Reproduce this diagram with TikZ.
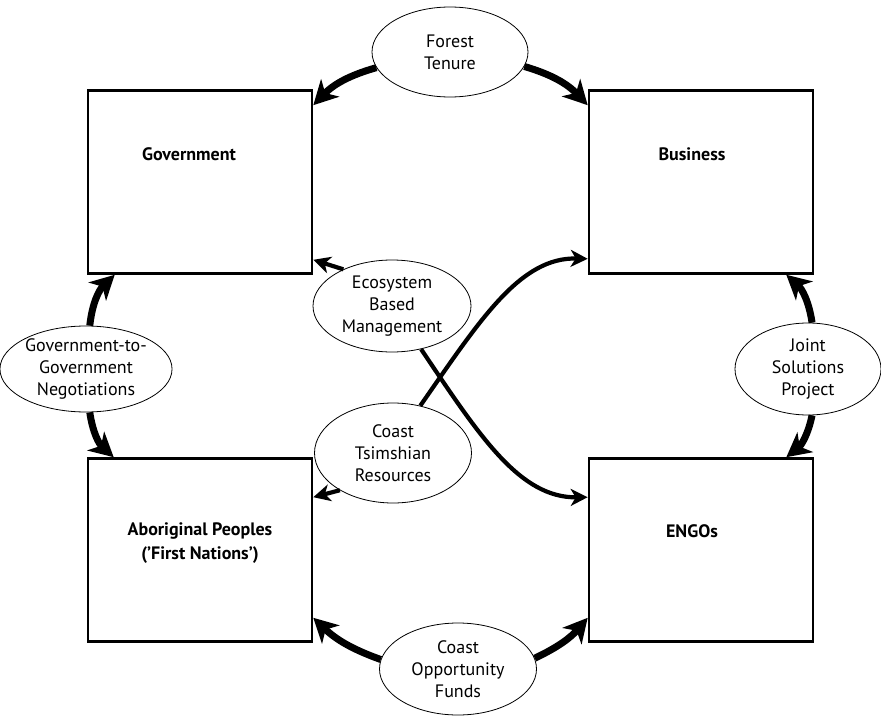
\documentclass[tikz,border=0pt]{standalone}
\usepackage{fontspec}
\setmainfont{PT Sans}
\usetikzlibrary{shapes.geometric,arrows.meta}
\begin{document}
\begin{tikzpicture}[x=1pt, y=1pt,
		party/.style={draw, line width=2.6pt, minimum width=224pt, minimum height=183pt, inner sep=0pt},
		partyname/.style={font=\fontsize{18}{24}\selectfont\bfseries, align=center},
		issue/.style={draw, fill=white, ellipse, line width=0.8pt, inner sep=0pt, align=center, font=\fontsize{18}{22}\selectfont},
		link/.style={line width=7pt, -{Stealth[length=24pt, width=25pt, inset=7pt]}},
		thinlink/.style={line width=4.2pt, -{Stealth[length=17pt, width=17pt, inset=5pt]}},
	]
		\useasboundingbox (0,0) rectangle (881,-717);
		% the four parties
		\node [party] at (200,-182) (gov) {};
		\node [party] at (701,-182) (bus) {};
		\node [party] at (200,-550) (abo) {};
		\node [party] at (701,-550) (engo) {};
		\node [partyname] at (189,-154) (govname) {Government};
		\node [partyname] at (692,-154) (busname) {Business};
		\node [partyname] at (200,-543) (aboname) {Aboriginal Peoples\\(’First Nations’)};
		\node [partyname] at (692,-531) (engoname) {ENGOs};
		% the issues between them
		\node [issue, minimum width=156pt, minimum height=90pt] at (450,-52) (ft) {Forest\\Tenure};
		\node [issue, minimum width=154pt, minimum height=86pt] at (86,-369) (ggn) {Government-to-\\Government\\Negotiations};
		\node [issue, minimum width=146pt, minimum height=92pt] at (808,-369) (jsp) {Joint\\Solutions\\Project};
		\node [issue, minimum width=158pt, minimum height=92pt] at (392,-306) (ebm) {Ecosystem\\Based\\Management};
		\node [issue, minimum width=157pt, minimum height=100pt] at (393,-453) (ctr) {Coast\\Tsimshian\\Resources};
		\node [issue, minimum width=157pt, minimum height=92pt] at (458,-669) (cof) {Coast\\Opportunity\\Funds};
		% thick arrows
		\draw [link] (ft.192) to [bend right=15] ([yshift=-16pt]gov.north east);
		\draw [link] (ft.349) to [bend left=15] ([yshift=-16pt]bus.north west);
		\draw [link] (ggn.85) to [bend left=20] ([xshift=28pt]gov.south west);
		\draw [link] (ggn.-85) to [bend right=20] ([xshift=27pt]abo.north west);
		\draw [link] (jsp.85) to [bend right=20] ([xshift=-28pt]bus.south east);
		\draw [link] (jsp.-85) to [bend left=20] ([xshift=-28pt]engo.north east);
		\draw [link] (cof.173) to [bend left=12] ([yshift=25pt]abo.south east);
		\draw [link] (cof.8) to [bend right=12] ([yshift=25pt]engo.south west);
		% thin arrows
		\draw [thinlink] (ebm.143) -- ([yshift=15pt]gov.south east);
		\draw [thinlink] (ctr.215) -- ([yshift=-40pt]abo.north east);
		\draw [thinlink] (ctr.60) .. controls (480,-320) and (520,-257) .. ([yshift=16pt]bus.south west);
		\draw [thinlink] (ebm.-56) .. controls (480,-437) and (520,-498) .. ([yshift=-40pt]engo.north west);
	\end{tikzpicture}
\end{document}
